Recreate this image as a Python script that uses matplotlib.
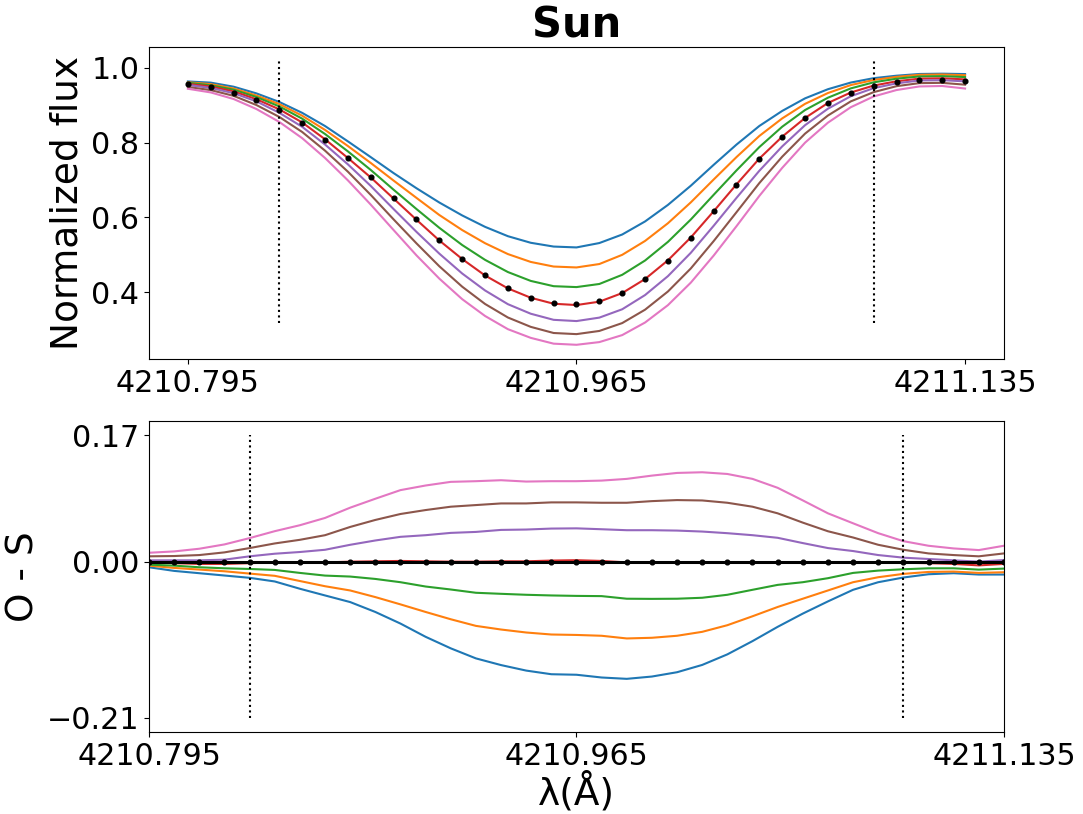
import numpy as np
import matplotlib
matplotlib.use('Agg')
import matplotlib.pyplot as plt

# wavelength grid (0.01 A steps)
wave = np.round(np.arange(4210.795, 4211.1351, 0.01), 3)

obs = [0.956, 0.948, 0.934, 0.913, 0.887, 0.853, 0.808, 0.758, 0.707, 0.651,
       0.595, 0.539, 0.489, 0.445, 0.411, 0.386, 0.371, 0.368, 0.376, 0.397,
       0.435, 0.485, 0.546, 0.616, 0.688, 0.757, 0.815, 0.865, 0.905, 0.933,
       0.951, 0.962, 0.968, 0.967, 0.966]

# O - S residuals of each synthetic model
res_blue = [-0.0075, -0.0124, -0.0155, -0.0186, -0.0217, -0.0266, -0.0364, -0.0454, -0.0543, -0.0676,
            -0.0832, -0.101, -0.1165, -0.130, -0.139, -0.1464, -0.1513, -0.152, -0.1557, -0.1575,
            -0.1544, -0.1486, -0.1388, -0.1246, -0.1068, -0.0876, -0.0698, -0.0534, -0.0378, -0.0276,
            -0.0213, -0.0169, -0.0155, -0.0173, -0.0173]
res_orange = [-0.0053, -0.0084, -0.0106, -0.0129, -0.016, -0.019, -0.026, -0.033, -0.0387, -0.0476,
              -0.0574, -0.0676, -0.0774, -0.0863, -0.0912, -0.0952, -0.0979, -0.0985, -0.0996, -0.1032,
              -0.1023, -0.0996, -0.0943, -0.0854, -0.0734, -0.0609, -0.0498, -0.0387, -0.0276, -0.0209,
              -0.0164, -0.0138, -0.0133, -0.0151, -0.0142]
res_green = [-0.004, -0.0053, -0.0075, -0.0089, -0.0098, -0.0111, -0.0151, -0.0187, -0.02, -0.0232,
             -0.0276, -0.0334, -0.0374, -0.0418, -0.0432, -0.0445, -0.0454, -0.046, -0.0463, -0.0498,
             -0.0500, -0.0498, -0.0485, -0.0445, -0.0378, -0.0312, -0.0276, -0.0222, -0.0151, -0.012,
             -0.0102, -0.0089, -0.0089, -0.0107, -0.0093]
res_red = [-0.001, -0.002, -0.003, -0.003, -0.002, -0.001, -0.001, -0.001, 0.0, 0.0005,
           0.001, 0.0005, 0.0, 0.0, 0.0005, 0.0005, 0.0015, 0.002, 0.001, -0.001,
           -0.0005, -0.0005, -0.0005, -0.0005, -0.0005, -0.0005, -0.001, -0.001, -0.001, -0.001,
           -0.0015, -0.002, -0.003, -0.005, -0.003]
res_purple = [0.0018, 0.0018, 0.0018, 0.0027, 0.0072, 0.0107, 0.013, 0.016, 0.0227, 0.0285,
              0.0334, 0.0356, 0.0387, 0.04, 0.0427, 0.0432, 0.0445, 0.0448, 0.0436, 0.0423,
              0.0423, 0.0418, 0.0405, 0.0383, 0.0356, 0.0321, 0.025, 0.0183, 0.0143, 0.0089,
              0.0054, 0.0036, 0.0018, 0.0, 0.0022]
res_brown = [0.0072, 0.0076, 0.0089, 0.0125, 0.0183, 0.0245, 0.0294, 0.0356, 0.0467, 0.0561,
             0.0641, 0.0694, 0.0739, 0.0761, 0.0783, 0.0783, 0.0797, 0.0797, 0.0792, 0.0792,
             0.0814, 0.0828, 0.0823, 0.0792, 0.0739, 0.065, 0.0525, 0.0409, 0.0325, 0.0227,
             0.016, 0.0111, 0.0089, 0.0072, 0.0111]
res_pink = [0.012, 0.0138, 0.0174, 0.0232, 0.0317, 0.041, 0.049, 0.0588, 0.0726, 0.0846,
            0.0962, 0.1024, 0.1073, 0.1082, 0.1095, 0.1077, 0.1082, 0.1082, 0.109, 0.1113,
            0.1157, 0.1193, 0.1202, 0.1179, 0.1113, 0.0993, 0.0824, 0.065, 0.0516, 0.0383,
            0.0276, 0.0214, 0.0178, 0.0156, 0.0214]

residuals = [res_blue, res_orange, res_green, res_red, res_purple, res_brown, res_pink]

# line-mask limits
mask_lo, mask_hi = 4210.835, 4211.095
xticks = [4210.795, 4210.965, 4211.135]
os_ticks = [-0.21, 0.0, 0.17]

obs = np.array(obs)
tick_fs = 21.7
label_fs = 27

fig = plt.figure(figsize=(10.83, 8.14), dpi=100)
ax1 = fig.add_axes([0.1376, 0.559, 0.7894, 0.3834])
ax2 = fig.add_axes([0.1376, 0.1007, 0.7894, 0.382])

# top panel: synthetic spectra and observed points
for res in residuals:
    ax1.plot(wave, obs - np.array(res), lw=1.5)
ax1.plot(wave, obs, 'ko', ms=3.4, zorder=5)
ax1.vlines([mask_lo, mask_hi], obs.min() - 0.05, obs.max() + 0.05,
           colors='k', linestyles=':', lw=1.5)
ax1.set_xticks(xticks)
ax1.set_xticklabels(['%.3f' % t for t in xticks])
ax1.set_ylabel('Normalized flux', fontsize=label_fs)
ax1.set_title('Sun', fontsize=30, fontweight='bold')
ax1.tick_params(labelsize=tick_fs)

# bottom panel: O - S
for res in residuals:
    ax2.plot(wave, res, lw=1.5)
ax2.plot(wave, np.zeros(len(wave)), 'k-', lw=2.2, marker='o', ms=3.4)
ax2.vlines([mask_lo, mask_hi], os_ticks[0], os_ticks[-1],
           colors='k', linestyles=':', lw=1.5)
ax2.set_xlim(wave[0], wave[-1])
ax2.set_xticks(xticks)
ax2.set_xticklabels(['%.3f' % t for t in xticks])
ax2.set_yticks(os_ticks)
ax2.set_yticklabels(['%.2f' % t if t >= 0 else '\u2212%.2f' % abs(t) for t in os_ticks])
ax2.set_ylabel('O - S', fontsize=label_fs)
ax2.set_xlabel('\u03bb(\u00c5)', fontsize=label_fs, labelpad=1)
ax2.tick_params(labelsize=tick_fs)

fig.savefig('out.png', dpi=100)
